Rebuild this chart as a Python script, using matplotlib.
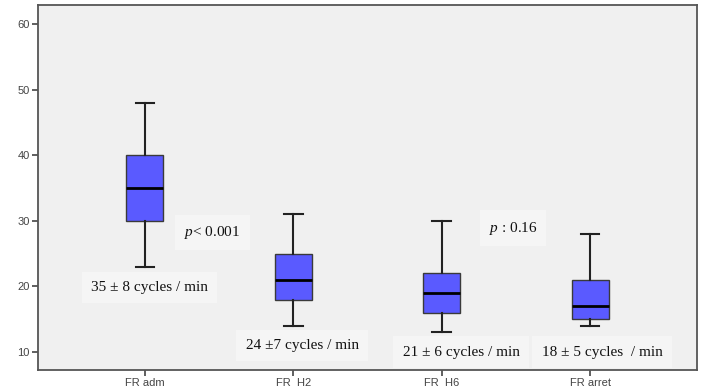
import matplotlib
matplotlib.use("Agg")
import matplotlib.pyplot as plt

plt.rcParams["mathtext.fontset"] = "custom"
plt.rcParams["mathtext.rm"] = "Liberation Serif"
plt.rcParams["mathtext.it"] = "Liberation Serif:italic"

categories = ["FR adm", "FR  H2", "FR  H6", "FR arret"]
whis_low = [23, 14, 13, 14]
q1 = [30, 18, 16, 15]
median = [35, 21, 19, 17]
q3 = [40, 25, 22, 21]
whis_high = [48, 31, 30, 28]
y_ticks = [10, 20, 30, 40, 50, 60]

fig = plt.figure(figsize=(7.05, 3.87), dpi=100)
fig.patch.set_facecolor("white")
ax = fig.add_axes([38/705, 17/387, 659/705, 365/387])
ax.set_facecolor("#f0f0f0")

stats = []
for i, c in enumerate(categories):
    stats.append(dict(label=c, whislo=whis_low[i], q1=q1[i], med=median[i],
                      q3=q3[i], whishi=whis_high[i], fliers=[]))
pos = list(range(1, len(categories) + 1))
ax.bxp(stats, positions=pos, widths=0.25, capwidths=0.125, patch_artist=True,
       showfliers=False,
       boxprops=dict(facecolor="#5a5aff", edgecolor="#3a3a3a", linewidth=1.0),
       medianprops=dict(color="black", linewidth=2.0),
       whiskerprops=dict(color="#222222", linewidth=1.5),
       capprops=dict(color="#222222", linewidth=1.5))

ax.set_xlim(0.28, 4.72)
ax.set_ylim(7.26, 62.9)
ax.set_yticks(y_ticks)
ax.set_xticks(pos)
ax.set_xticklabels(categories)
for lab in ax.get_xticklabels() + ax.get_yticklabels():
    lab.set_fontfamily("Liberation Sans")
    lab.set_fontsize(8)
    lab.set_color("#444444")
ax.tick_params(axis="both", length=4, width=1.2, color="#444444", pad=2)
for s in ax.spines.values():
    s.set_color("#555555")
    s.set_linewidth(1.3)

bb = dict(boxstyle="square,pad=0.6", facecolor="#f5f5f5", edgecolor="none")
tfont = dict(family="Liberation Serif", fontsize=11, color="#111111")

def tx(x, y, s, **kw):
    ax.text(x, y, s, ha="center", va="center", bbox=bb, **tfont, **kw)

tx(1.03, 19.8, "35 ± 8 cycles / min")
tx(2.06, 11.0, "24 ±7 cycles / min")
tx(3.13, 10.0, "21 ± 6 cycles / min")
tx(4.08, 10.0, "18 ± 5 cycles  / min")
tx(1.454, 28.2, r"$\it{p}$< 0.001")
tx(3.48, 28.9, r"$\it{p}$ : 0.16")

fig.savefig("out.png", dpi=100)
